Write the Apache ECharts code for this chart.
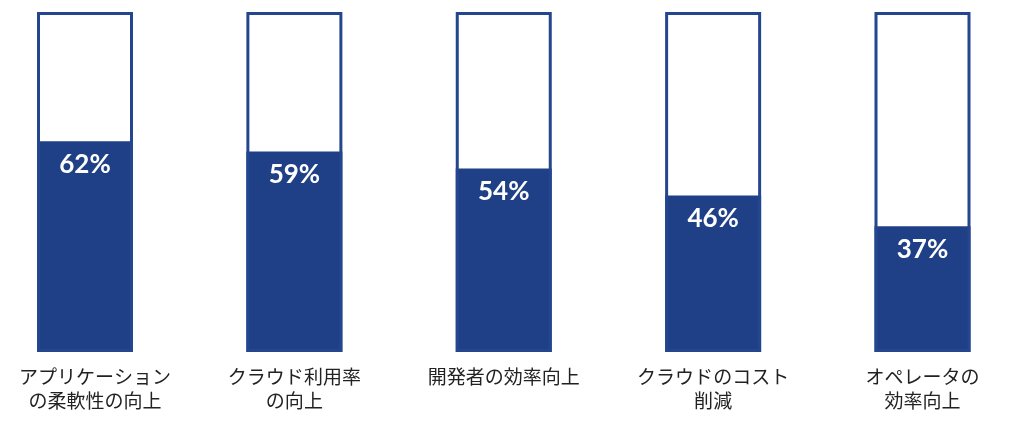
<!DOCTYPE html>
<html><head><meta charset="utf-8">
<script src="https://cdn.jsdelivr.net/npm/echarts@6/dist/echarts.min.js"></script>
<style>html,body{margin:0;padding:0;background:#fff}#c{width:1024px;height:427px}</style>
</head><body><div id="c"></div>
<script>
const categories = ["アプリケーション\nの柔軟性の向上", "クラウド利用率\nの向上", "開発者の効率向上", "クラウドのコスト\n削減", "オペレータの\n効率向上"];
const values = [62, 59, 54, 46, 37];
const fullValues = [100, 100, 100, 100, 100];

const chart = echarts.init(document.getElementById('c'));
const catData = categories.map((c, i) => i === 0 ? { value: c, textStyle: { padding: [0, 0, 0, 20] } } : c);
chart.setOption({
  animation: false,
  grid: { left: 85, right: 101.5, top: 12, bottom: 75, outerBoundsMode: 'none', containLabel: false },
  xAxis: {
    type: 'category', data: catData, boundaryGap: false,
    axisLine: { show: false }, axisTick: { show: false }, splitLine: { show: false },
    axisLabel: { margin: 13, fontSize: 19, lineHeight: 24, color: '#222',
      fontFamily: '"Noto Sans CJK JP", sans-serif', interval: 0, hideOverlap: false }
  },
  yAxis: { type: 'value', min: 0, max: 100, show: false },
  series: [
    { type: 'bar', data: values, barWidth: 96, z: 2,
      itemStyle: { color: '#1f4087' },
      label: { show: true, position: 'insideTop', distance: 10, formatter: '{c}%',
        color: '#fff', fontSize: 26, fontWeight: 'bold', fontFamily: 'Lato, "Open Sans", sans-serif' } },
    { type: 'bar', data: fullValues, barWidth: 96, barGap: '-100%', z: 3,
      itemStyle: { color: 'rgba(0,0,0,0)', borderColor: '#24468f', borderWidth: 3 } }
  ]
});
</script></body></html>
